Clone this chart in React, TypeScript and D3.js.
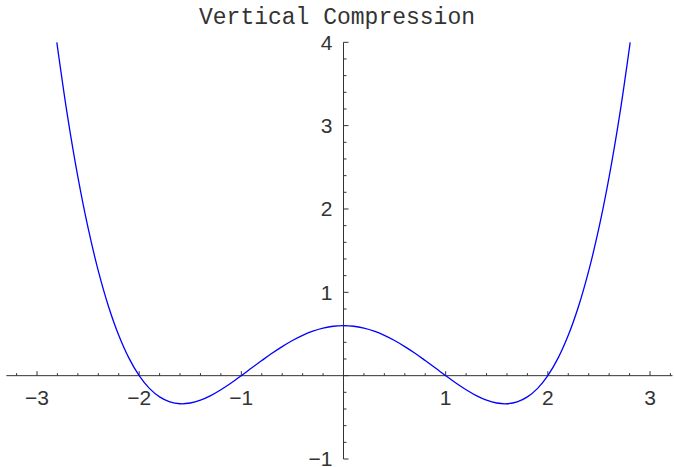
import React from "react";
import * as d3 from "d3";

// Sampled curve: x positions and their heights
const xValues = [
  -2.806, -2.7, -2.6, -2.5, -2.4, -2.3, -2.2, -2.1, -2.0, -1.9, -1.8, -1.7, -1.6, -1.5, -1.4,
  -1.3, -1.2, -1.1, -1.0, -0.9, -0.8, -0.7, -0.6, -0.5, -0.4, -0.3, -0.2, -0.1, 0.0,
  0.1, 0.2, 0.3, 0.4, 0.5, 0.6, 0.7, 0.8, 0.9, 1.0, 1.1, 1.2, 1.3, 1.4, 1.5, 1.6,
  1.7, 1.8, 1.9, 2.0, 2.1, 2.2, 2.3, 2.4, 2.5, 2.6, 2.7, 2.806,
];
const yValues = [
  4.0, 3.104, 2.385, 1.772, 1.257, 0.83, 0.484, 0.21, 0.0, -0.153, -0.255, -0.315, -0.337, -0.328, -0.294,
  -0.239, -0.169, -0.088, 0.0, 0.091, 0.181, 0.269, 0.349, 0.422, 0.484, 0.534, 0.57, 0.593, 0.6,
  0.593, 0.57, 0.534, 0.484, 0.422, 0.349, 0.269, 0.181, 0.091, 0.0, -0.088, -0.169, -0.239, -0.294, -0.328, -0.337,
  -0.315, -0.255, -0.153, 0.0, 0.21, 0.484, 0.83, 1.257, 1.772, 2.385, 3.104, 4.0,
];

const title = "Vertical Compression";
const xTickValues = [-3, -2, -1, 1, 2, 3];
const yTickValues = [-1, 1, 2, 3, 4];
const xMinorTicks = d3.range(-16, 17).map((i) => i / 5).filter((v) => Math.abs(v * 5 % 5) > 1e-9);
const yMinorTicks = d3.range(-5, 21).map((i) => i / 5).filter((v) => Math.abs(v * 5 % 5) > 1e-9);
const xAxisExtent = [-3.3, 3.22];
const yAxisExtent = [-1, 4];

const W = 674;
const H = 467;

export default function App() {
  const x = d3.scaleLinear().domain([-3, 3]).range([37, 650]);
  const y = d3.scaleLinear().domain([-1, 4]).range([459, 42.3]);

  const pts: [number, number][] = xValues.map((v, i) => [v, yValues[i]]);
  const line = d3
    .line<[number, number]>()
    .x((d) => x(d[0]))
    .y((d) => y(d[1]))
    .curve(d3.curveCatmullRom.alpha(0.5));

  const axisColor = "#333";
  const labelFont = "'Liberation Sans', Arial, sans-serif";
  const x0 = x(0);
  const y0 = y(0);
  const fmt = (v: number) => (v < 0 ? "\u2212" + Math.abs(v) : String(v));

  return (
    <svg
      width={W}
      height={H}
      style={{ position: "absolute", left: 0, top: 0, background: "#fff" }}
    >
      <text
        x={337}
        y={24}
        textAnchor="middle"
        fontFamily="'Liberation Mono', 'Courier New', monospace"
        fontSize={23}
        fill="#333"
      >
        {title}
      </text>

      {/* horizontal axis */}
      <line
        x1={x(xAxisExtent[0])}
        x2={x(xAxisExtent[1])}
        y1={y0}
        y2={y0}
        stroke={axisColor}
        strokeWidth={1}
      />
      {xTickValues.map((t) => (
        <line key={"xM" + t} x1={x(t)} x2={x(t)} y1={y0} y2={y0 - 4.5} stroke={axisColor} />
      ))}
      {xMinorTicks.map((t) => (
        <line key={"xm" + t} x1={x(t)} x2={x(t)} y1={y0} y2={y0 - 2.5} stroke={axisColor} />
      ))}
      {xTickValues.map((t) => (
        <text
          key={"xl" + t}
          x={x(t)}
          y={405}
          textAnchor="middle"
          fontFamily={labelFont}
          fontSize={21}
          fill="#333"
        >
          {fmt(t)}
        </text>
      ))}

      {/* vertical axis */}
      <line
        x1={x0}
        x2={x0}
        y1={y(yAxisExtent[0])}
        y2={y(yAxisExtent[1])}
        stroke={axisColor}
        strokeWidth={1}
      />
      {[...yTickValues, 0].map((t) => (
        <line key={"yM" + t} x1={x0} x2={x0 + 5} y1={y(t)} y2={y(t)} stroke={axisColor} />
      ))}
      {yMinorTicks.map((t) => (
        <line key={"ym" + t} x1={x0} x2={x0 + 3} y1={y(t)} y2={y(t)} stroke={axisColor} />
      ))}
      {yTickValues.map((t) => (
        <text
          key={"yl" + t}
          x={x0 - 11}
          y={y(t)}
          dy="0.35em"
          textAnchor="end"
          fontFamily={labelFont}
          fontSize={21}
          fill="#333"
        >
          {fmt(t)}
        </text>
      ))}

      <path d={line(pts) ?? ""} fill="none" stroke="#0000ff" strokeWidth={1.3} />
    </svg>
  );
}
